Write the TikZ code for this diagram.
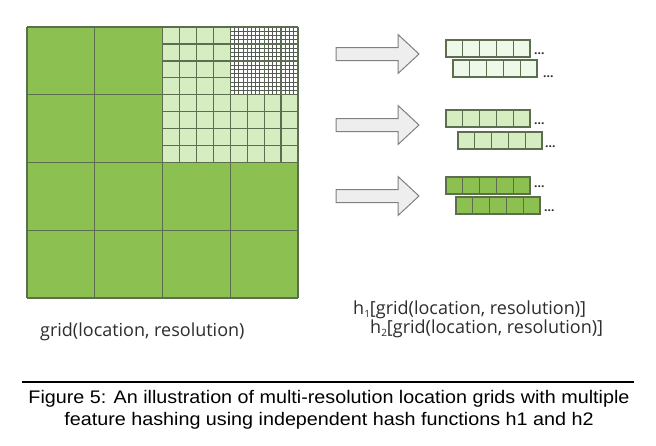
\documentclass[tikz,border=0pt]{standalone}
\usepackage{fontspec}
\setmainfont{Liberation Sans}
\newfontfamily\labelfont{Open Sans}
\newfontfamily\capfont[FakeStretch=1.085]{Liberation Sans}
\definecolor{gcoarse}{RGB}{140,193,82}
\definecolor{gmed}{RGB}{213,237,192}
\definecolor{glight}{RGB}{239,249,233}
\definecolor{gline}{RGB}{92,110,78}
\definecolor{fineclr}{RGB}{85,90,85}
\definecolor{arrowfill}{RGB}{238,238,238}
\definecolor{arrowline}{RGB}{128,128,128}
\definecolor{labclr}{RGB}{45,45,45}
\tikzset{
  gridline/.style={draw=gline, line width=1.4pt},
  fineline/.style={draw=fineclr, line width=0.9pt},
  arrowstyle/.style={fill=arrowfill, draw=arrowline, line width=1pt, line join=miter},
  cellline/.style={draw=gline, line width=1.25pt},
  dotsty/.style={font=\labelfont\bfseries\fontsize{12}{12}\selectfont, text=labclr, inner sep=0pt},
  lab/.style={font=\labelfont\fontsize{18}{20}\selectfont, text=labclr, inner sep=0pt},
  captionsty/.style={font=\capfont\fontsize{18.2}{22}\selectfont, align=center, inner sep=0pt},
  blockarrow/.pic={\path[arrowstyle] (336,-6.5) -- (398,-6.5) -- (398,-19.5) -- (419,0) -- (398,19.5) -- (398,6.5) -- (336,6.5) -- cycle;}
}
\begin{document}
\begin{tikzpicture}[x=1pt,y=-1pt]
\useasboundingbox[fill=white] (0,0) rectangle (656,445);
% coarse grid
\fill[gcoarse] (27,27) rectangle (298,298);
\fill[gmed] (162.5,27) rectangle (298,162.5);
\fill[white] (230.25,27) rectangle (298,94.75);
% fine grid
\foreach \i in {0,...,16} {
  \draw[fineline] ({230.25+\i*67.75/16},27) -- ++(0,67.75);
  \draw[fineline] (230.25,{27+\i*67.75/16}) -- ++(67.75,0);
}
% medium grid
\foreach \i in {0,...,8} {
  \draw[cellline] ({162.5+\i*135.5/8},27) -- ++(0,135.5);
  \draw[cellline] (162.5,{27+\i*135.5/8}) -- ++(135.5,0);
}
% coarse lines
\foreach \i in {0,...,4} {
  \draw[gridline] ({27+\i*67.75},27) -- ++(0,271);
  \draw[gridline] (27,{27+\i*67.75}) -- ++(271,0);
}
% arrows
\pic at (0,54) {blockarrow};
\pic at (0,125) {blockarrow};
\pic at (0,196) {blockarrow};
% hash arrays
\foreach \ya/\yb/\xb/\c/\da/\db/\xd in {40/60/453/glight/12/15/543, 110/132/458/gmed/12/13/545, 177/197/456/gcoarse/8/12/544} {
  \filldraw[fill=\c, cellline] (446,\ya) rectangle (530,{\ya+17});
  \foreach \k in {1,...,4} \draw[cellline] ({446+\k*16.8},\ya) -- ++(0,17);
  \filldraw[fill=\c, cellline] (\xb,\yb) rectangle ({\xb+84},{\yb+17});
  \foreach \k in {1,...,4} \draw[cellline] ({\xb+\k*16.8},\yb) -- ++(0,17);
  \node[dotsty, anchor=base west] at (534,{\ya+\da+2}) {...};
  \node[dotsty, anchor=base west] at (\xd,{\yb+\db+2}) {...};
}
% labels
\node[lab, anchor=base west] (gridlabel) at (40,336) {grid(location, resolution)};
\node[lab, anchor=base west] (hone) at (353,314) {h{\fontsize{10}{10}\selectfont\raisebox{-3pt}{1}}[grid(location, resolution)]};
\node[lab, anchor=base west] (htwo) at (370,333) {h{\fontsize{10}{10}\selectfont\raisebox{-3pt}{2}}[grid(location, resolution)]};
% caption
\coordinate (ruleL) at (22,382);
\coordinate (ruleR) at (634,382);
\draw[line width=1.1pt] (ruleL) -- (ruleR);
\node[captionsty, anchor=base] (capone) at (329,403) {Figure 5: An illustration of multi-resolution location grids with multiple};
\node[captionsty, anchor=base] (captwo) at (329,425) {feature hashing using independent hash functions h1 and h2};
\end{tikzpicture}
\end{document}
